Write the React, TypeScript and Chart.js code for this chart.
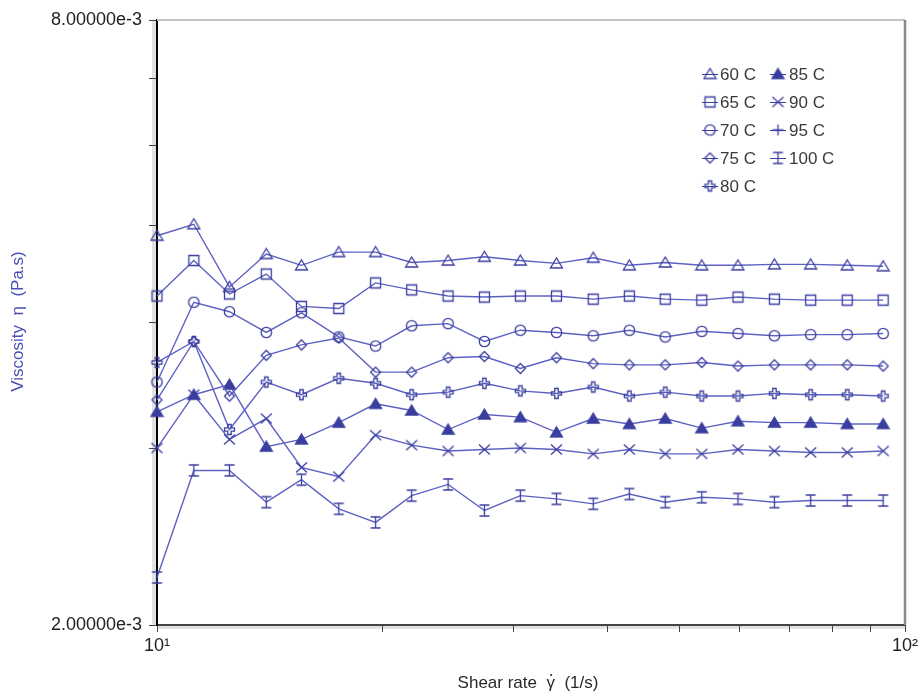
import React, { useEffect, useRef } from 'react';
import { Chart, registerables } from 'chart.js';

Chart.register(...registerables);

// Shear rate (1/s)
const shearRate = [10.0, 11.2, 12.5, 14.0, 15.6, 17.5, 19.6, 21.9, 24.5, 27.4, 30.6, 34.2, 38.3, 42.8, 47.8, 53.5, 59.8, 66.9, 74.8, 83.7, 93.5];

// Viscosity in units of 1e-3 Pa.s
const visc60 = [4.88, 5.01, 4.34, 4.68, 4.56, 4.70, 4.70, 4.59, 4.61, 4.65, 4.61, 4.58, 4.64, 4.56, 4.59, 4.56, 4.56, 4.57, 4.57, 4.56, 4.55];
const visc65 = [4.25, 4.61, 4.27, 4.47, 4.15, 4.13, 4.38, 4.31, 4.25, 4.24, 4.25, 4.25, 4.22, 4.25, 4.22, 4.21, 4.24, 4.22, 4.21, 4.21, 4.21];
const visc70 = [3.49, 4.19, 4.10, 3.91, 4.09, 3.87, 3.79, 3.97, 3.99, 3.83, 3.93, 3.91, 3.88, 3.93, 3.87, 3.92, 3.90, 3.88, 3.89, 3.89, 3.90];
const visc75 = [3.35, 3.83, 3.38, 3.71, 3.80, 3.86, 3.57, 3.57, 3.69, 3.70, 3.60, 3.69, 3.64, 3.63, 3.63, 3.65, 3.62, 3.63, 3.63, 3.63, 3.62];
const visc80 = [3.65, 3.83, 3.13, 3.49, 3.39, 3.52, 3.48, 3.39, 3.41, 3.48, 3.42, 3.40, 3.45, 3.38, 3.41, 3.38, 3.38, 3.40, 3.39, 3.39, 3.38];
const visc85 = [3.26, 3.39, 3.47, 3.01, 3.06, 3.18, 3.32, 3.27, 3.13, 3.24, 3.22, 3.11, 3.21, 3.17, 3.21, 3.14, 3.19, 3.18, 3.18, 3.17, 3.17];
const visc90 = [3.00, 3.39, 3.06, 3.21, 2.87, 2.81, 3.09, 3.02, 2.98, 2.99, 3.00, 2.99, 2.96, 2.99, 2.96, 2.96, 2.99, 2.98, 2.97, 2.97, 2.98];
const visc95: number[] = [];
const visc100 = [2.23, 2.85, 2.85, 2.65, 2.79, 2.61, 2.53, 2.69, 2.76, 2.60, 2.69, 2.67, 2.64, 2.70, 2.65, 2.68, 2.67, 2.65, 2.66, 2.66, 2.66];

const seriesLabels = ['60 C', '65 C', '70 C', '75 C', '80 C', '85 C', '90 C', '95 C', '100 C'];
const seriesValues = [visc60, visc65, visc70, visc75, visc80, visc85, visc90, visc95, visc100];
const seriesMarkers = ['tri', 'square', 'circle', 'diamond', 'openPlus', 'triFill', 'x', 'plus', 'ibeam'];

const yTicks = [2e-3, 3e-3, 4e-3, 5e-3, 6e-3, 7e-3, 8e-3];
const yTickLabels: Record<string, string> = { '0.002': '2.00000e-3', '0.008': '8.00000e-3' };
const xTicks = [10, 20, 30, 40, 50, 60, 70, 80, 90, 100];
const xTickLabels: Record<string, string> = { '10': '10\u00b9', '100': '10\u00b2' };

const xTitleParts = ['Shear rate  ', '\u03b3', '  (1/s)'];
const yTitle = 'Viscosity  \u03b7  (Pa.s)';

const LINE = '#5d61c2';
const MARK = '#3a3e9e';
const FONT = '"Liberation Sans", Arial, sans-serif';

function makeMarker(kind: string): HTMLCanvasElement {
  const s = 15;
  const c = document.createElement('canvas');
  c.width = s;
  c.height = s;
  const g = c.getContext('2d')!;
  g.strokeStyle = MARK;
  g.fillStyle = MARK;
  g.lineWidth = 1.3;
  const m = s / 2;
  g.beginPath();
  switch (kind) {
    case 'tri':
    case 'triFill':
      g.moveTo(m, m - 5.5);
      g.lineTo(m + 6, m + 4.5);
      g.lineTo(m - 6, m + 4.5);
      g.closePath();
      if (kind === 'triFill') g.fill();
      g.stroke();
      break;
    case 'square':
      g.rect(m - 5, m - 5, 10, 10);
      g.stroke();
      break;
    case 'circle':
      g.arc(m, m, 5.2, 0, Math.PI * 2);
      g.stroke();
      break;
    case 'diamond':
      g.moveTo(m, m - 5);
      g.lineTo(m + 5, m);
      g.lineTo(m, m + 5);
      g.lineTo(m - 5, m);
      g.closePath();
      g.stroke();
      break;
    case 'openPlus': {
      const a = 1.7, e = 5;
      g.moveTo(m - a, m - e);
      g.lineTo(m + a, m - e);
      g.lineTo(m + a, m - a);
      g.lineTo(m + e, m - a);
      g.lineTo(m + e, m + a);
      g.lineTo(m + a, m + a);
      g.lineTo(m + a, m + e);
      g.lineTo(m - a, m + e);
      g.lineTo(m - a, m + a);
      g.lineTo(m - e, m + a);
      g.lineTo(m - e, m - a);
      g.lineTo(m - a, m - a);
      g.closePath();
      g.stroke();
      break;
    }
    case 'x':
      g.moveTo(m - 5.5, m - 5);
      g.lineTo(m + 5.5, m + 5);
      g.moveTo(m + 5.5, m - 5);
      g.lineTo(m - 5.5, m + 5);
      g.stroke();
      break;
    case 'plus':
      g.moveTo(m - 5.5, m);
      g.lineTo(m + 5.5, m);
      g.moveTo(m, m - 5.5);
      g.lineTo(m, m + 5.5);
      g.stroke();
      break;
    case 'ibeam':
      g.moveTo(m, m - 5.5);
      g.lineTo(m, m + 5.5);
      g.moveTo(m - 5, m - 5.5);
      g.lineTo(m + 5, m - 5.5);
      g.moveTo(m - 5, m + 5.5);
      g.lineTo(m + 5, m + 5.5);
      g.stroke();
      break;
  }
  return c;
}

export default function App() {
  const ref = useRef<HTMLCanvasElement | null>(null);

  useEffect(() => {
    if (!ref.current) return;
    const markers = seriesMarkers.map(makeMarker);

    const datasets = seriesLabels.map((label, i) => ({
      label,
      data: seriesValues[i].map((v, j) => ({ x: shearRate[j], y: v * 1e-3 })),
      borderColor: LINE,
      backgroundColor: LINE,
      borderWidth: 1.4,
      pointStyle: markers[i] as any,
      pointRadius: 5,
      pointHoverRadius: 5,
      tension: 0,
      clip: false as any,
    }));

    const framePlugin = {
      id: 'frame',
      beforeDraw(chart: any) {
        const { ctx, chartArea: a } = chart;
        ctx.save();
        ctx.fillStyle = '#e2e2e2';
        ctx.fillRect(a.left - 5, a.top, 4, a.bottom - a.top);
        ctx.fillRect(a.left, a.bottom + 1, a.right - a.left, 3);
        ctx.restore();
      },
      afterDraw(chart: any) {
        const { ctx, chartArea: a } = chart;
        ctx.save();
        ctx.strokeStyle = '#c4c4c4';
        ctx.lineWidth = 2;
        ctx.beginPath();
        ctx.moveTo(a.left, a.top);
        ctx.lineTo(a.right, a.top);
        ctx.stroke();
        ctx.strokeStyle = '#8a8a8a';
        ctx.lineWidth = 2.5;
        ctx.beginPath();
        ctx.moveTo(a.right, a.top);
        ctx.lineTo(a.right, a.bottom);
        ctx.stroke();

        // x axis title with a dot over gamma
        ctx.font = '17px ' + FONT;
        ctx.fillStyle = '#2a2a2a';
        ctx.textBaseline = 'middle';
        ctx.textAlign = 'left';
        const widths = xTitleParts.map((p) => ctx.measureText(p).width);
        const total = widths.reduce((s, w) => s + w, 0);
        let tx = (a.left + a.right) / 2 - total / 2 - 3;
        const ty = 683;
        xTitleParts.forEach((p, k) => {
          ctx.fillText(p, tx, ty);
          if (k === 1) {
            ctx.beginPath();
            ctx.arc(tx + widths[k] / 2 + 0.5, ty - 8, 1.1, 0, Math.PI * 2);
            ctx.fill();
          }
          tx += widths[k];
        });

        // y axis title
        ctx.save();
        ctx.translate(18, (a.top + a.bottom) / 2 - 1);
        ctx.rotate(-Math.PI / 2);
        ctx.textAlign = 'center';
        ctx.fillStyle = '#4a4fb3';
        ctx.fillText(yTitle, 0, 0);
        ctx.restore();

        // legend
        const cols = [
          { mx: 710, tx: 720 },
          { mx: 778, tx: 789 },
        ];
        const rows = [74, 102, 130, 158, 186];
        ctx.font = '17px ' + FONT;
        ctx.textBaseline = 'middle';
        ctx.textAlign = 'left';
        seriesLabels.forEach((label, i) => {
          const col = i < 5 ? cols[0] : cols[1];
          const y = rows[i < 5 ? i : i - 5];
          ctx.strokeStyle = MARK;
          ctx.lineWidth = 1;
          ctx.beginPath();
          ctx.moveTo(col.mx - 8, y + 0.5);
          ctx.lineTo(col.mx + 8, y + 0.5);
          ctx.stroke();
          const mk = markers[i];
          ctx.drawImage(mk, col.mx - mk.width / 2, y - mk.height / 2);
          ctx.fillStyle = '#3a3a3a';
          ctx.fillText(label, col.tx, y + 1);
        });
        ctx.restore();
      },
    };

    const chart = new Chart(ref.current, {
      type: 'line',
      data: { datasets },
      options: {
        animation: false,
        responsive: true,
        maintainAspectRatio: false,
        events: [],
        layout: { padding: { left: 0, top: 20, right: 13, bottom: 0 } },
        plugins: {
          legend: { display: false },
          tooltip: { enabled: false },
        },
        scales: {
          x: {
            type: 'logarithmic',
            min: 10,
            max: 100,
            afterBuildTicks: (scale: any) => {
              scale.ticks = xTicks.map((v) => ({ value: v }));
            },
            afterFit: (scale: any) => {
              scale.height = 70;
              scale.paddingLeft = 0;
              scale.paddingRight = 0;
            },
            ticks: {
              autoSkip: false,
              maxRotation: 0,
              padding: 3,
              color: '#222',
              font: { family: FONT, size: 18 },
              callback: (v: any) => xTickLabels[String(v)] ?? '',
            },
            grid: {
              display: true,
              drawOnChartArea: false,
              drawTicks: true,
              tickLength: 7,
              color: '#444',
            },
            border: { display: true, color: '#444', width: 2 },
          },
          y: {
            type: 'logarithmic',
            min: 2e-3,
            max: 8e-3,
            afterBuildTicks: (scale: any) => {
              scale.ticks = yTicks.map((v) => ({ value: v }));
            },
            afterFit: (scale: any) => {
              scale.width = 157;
              scale.paddingTop = 0;
              scale.paddingBottom = 0;
            },
            ticks: {
              autoSkip: false,
              padding: 7,
              color: '#222',
              font: { family: FONT, size: 18 },
              callback: (v: any) => yTickLabels[String(v)] ?? '',
            },
            grid: {
              display: true,
              drawOnChartArea: false,
              drawTicks: true,
              tickLength: 8,
              color: '#444',
            },
            border: { display: true, color: '#000', width: 2 },
          },
        },
      },
      plugins: [framePlugin],
    });

    return () => chart.destroy();
  }, []);

  return (
    <div style={{ position: 'fixed', left: 0, top: 0, width: 918, height: 695, background: '#fff' }}>
      <canvas ref={ref} />
    </div>
  );
}
